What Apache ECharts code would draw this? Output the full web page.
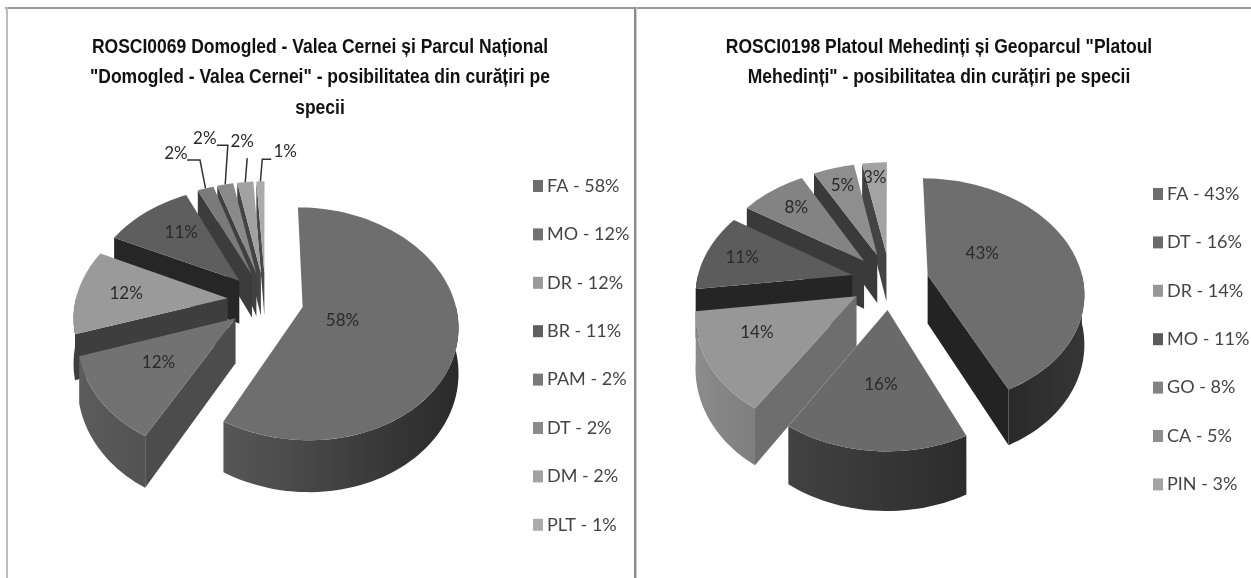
<!DOCTYPE html>
<html>
<head>
<meta charset="utf-8">
<title>ROSCI posibilitatea din curățiri pe specii</title>
<script src="https://cdn.jsdelivr.net/npm/echarts@6/dist/echarts.min.js"></script>
<style>
  html, body { margin: 0; padding: 0; background: #fff; }
  #chart { width: 1251px; height: 578px; }
</style>
</head>
<body>
<div id="chart"></div>
<script>
// values, left chart
const leftSpecies = ['FA', 'MO', 'DR', 'BR', 'PAM', 'DT', 'DM', 'PLT']
const leftValues = [58, 12, 12, 11, 2, 2, 2, 1]
const leftTitle = 'ROSCI0069 Domogled - Valea Cernei și Parcul Național\n"Domogled - Valea Cernei" - posibilitatea din curățiri pe\nspecii'

// right chart
const rightSpecies = ['FA', 'DT', 'DR', 'MO', 'GO', 'CA', 'PIN']
const rightValues = [43, 16, 14, 11, 8, 5, 3]
const rightTitle = 'ROSCI0198 Platoul Mehedinți și Geoparcul "Platoul\nMehedinți" - posibilitatea din curățiri pe specii'

const TITLE_FONT = '"Liberation Sans", sans-serif'
const TEXT_FONT = 'Lato, "Liberation Sans", sans-serif'

const leftLook = {
  cx: 265.5, cy: 300, rx: 152, ry: 112, tilt: 0.143, explode: 0.25, depth: 44,
  top: ['#6e6e6e', '#727272', '#9a9a9a', '#5e5e5e', '#7a7a7a', '#8a8a8a', '#a2a2a2', '#ababab'],
  cut: ['#333333', '#4c4c4c', '#3e3e3e', '#262626', '#3c3c3c', '#404040', '#444444', '#4a4a4a'],
  side: [['#575757', '#2a2a2a'], ['#5c5c5c', '#525252'], ['#3e3e3e', '#3e3e3e'], ['#262626', '#262626'],
    ['#3c3c3c', '#3c3c3c'], ['#404040', '#404040'], ['#444444', '#444444'], ['#4a4a4a', '#4a4a4a']],
  // label spot: distance from the slice tip, turn away from the slice middle
  labelR: [0.276, 0.58, 0.676, 0.65, 1.52, 1.64, 1.54, 1.40],
  labelTurn: [10, 2, 0, 3.6, -3, -1.2, 1.2, 8.7],
  // leader: elbow offset from the label, short run back towards it
  leader: [null, null, null, null, [24, 7, -13], [23, 7, -11], [5, 17, 0], [-23, 8, 9]]
}

const rightLook = {
  cx: 890, cy: 281, rx: 155.5, ry: 112, tilt: 0.143, explode: 0.25, depth: 49,
  top: ['#6e6e6e', '#6a6a6a', '#979797', '#5c5c5c', '#838383', '#8e8e8e', '#a3a3a3'],
  cut: ['#232323', '#333333', '#6e6e6e', '#252525', '#3a3a3a', '#3a3a3a', '#444444'],
  side: [['#2a2a2a', '#363636'], ['#424242', '#2c2c2c'], ['#8c8c8c', '#7e7e7e'], ['#252525', '#252525'],
    ['#3a3a3a', '#3a3a3a'], ['#3a3a3a', '#3a3a3a'], ['#444444', '#444444']],
  labelR: [0.423, 0.57, 0.664, 0.755, 0.735, 0.777, 0.815],
  labelTurn: [-16, 0, 5.4, 0, 1, 0, -0.9],
  leader: [null, null, null, null, null, null, null]
}

const rad = (d) => d * Math.PI / 180

function makeSlice(look, i, start, end) {
  const mid = (start + end) / 2
  const ex = look.explode * Math.sin(rad(mid))
  const ey = -look.explode * Math.cos(rad(mid))

  // circle coordinates to screen, with the far side squeezed by the tilt
  function pt(angle, r, h) {
    const u = ex + r * Math.sin(rad(angle))
    const v = ey - r * Math.cos(rad(angle))
    const s = 1 / (1 - look.tilt * v)
    return [look.cx + look.rx * u * s, look.cy + (look.ry * v + (h || 0)) * s]
  }

  function arc(a, b, h) {
    const pts = []
    const n = Math.max(2, Math.ceil(Math.abs(b - a) / 2))
    for (let j = 0; j <= n; j++) pts.push(pt(a + (b - a) * j / n, 1, h))
    return pts
  }

  function polygon(points, fill, z2) {
    return { type: 'polygon', shape: { points }, style: { fill }, z2, silent: true }
  }

  return function renderItem(params, api) {
    const value = api.value(0)
    const children = []
    const d = look.depth

    // cut faces looking at the viewer
    const cut = (a) => polygon([pt(a, 0), pt(a, 1), pt(a, 1, d), pt(a, 0, d)], look.cut[i], 1)
    if (Math.sin(rad(start)) < 0) children.push(cut(start))
    if (Math.sin(rad(end)) > 0) children.push(cut(end))

    // rim, only the front half shows
    const a = Math.max(start, 90)
    const b = Math.min(end, 270)
    if (b > a) {
      // left to right on screen
      const stops = look.side[i]
      const fill = new echarts.graphic.LinearGradient(0, 0, 1, 0, [
        { offset: 0, color: stops[0] },
        { offset: 1, color: stops[1] }
      ])
      children.push(polygon(arc(a, b, 0).concat(arc(b, a, d)), fill, 2))
    }

    // top face
    children.push(polygon([pt(start, 0)].concat(arc(start, end, 0)), look.top[i], 3))

    // data label
    const spot = pt(mid + look.labelTurn[i], look.labelR[i], 0)
    children.push({
      type: 'text',
      z2: 20,
      silent: true,
      style: {
        x: spot[0], y: spot[1], text: value + '%',
        align: 'center', verticalAlign: 'middle',
        fill: '#2a2a2a', font: '17px ' + TEXT_FONT
      }
    })

    // leader for the thin slices
    const lead = look.leader[i]
    if (lead) {
      const elbow = [spot[0] + lead[0], spot[1] + lead[1]]
      const pts = [pt(mid, 1, 0), elbow]
      if (lead[2]) pts.push([elbow[0] + lead[2], elbow[1]])
      children.push({
        type: 'polyline',
        z2: 19,
        silent: true,
        shape: { points: pts },
        style: { stroke: '#333', lineWidth: 1.5, fill: null }
      })
    }
    return { type: 'group', children }
  }
}

// one custom series per slice, far slices first so near ones paint over them
function pieSeries(species, values, look) {
  const total = values.reduce((a, b) => a + b, 0)
  let acc = 0
  const list = values.map((val, i) => {
    const start = acc / total * 360
    acc += val
    const end = acc / total * 360
    const mid = (start + end) / 2
    return {
      order: -Math.cos(rad(mid)),
      series: {
        type: 'custom',
        name: species[i] + ' - ' + val + '%',
        coordinateSystem: 'none',
        itemStyle: { color: look.top[i] },
        animation: false,
        silent: true,
        data: [[val]],
        renderItem: makeSlice(look, i, start, end)
      }
    }
  })
  return list.sort((p, q) => p.order - q.order).map((p) => p.series)
}

const legendNames = (species, values) => species.map((s, i) => s + ' - ' + values[i] + '%')

const legendBase = {
  orient: 'vertical',
  icon: 'rect',
  itemWidth: 10,
  itemHeight: 12,
  itemGap: 30.4,
  selectedMode: false,
  padding: 0,
  textStyle: { color: '#444', fontFamily: TEXT_FONT, fontSize: 18, lineHeight: 18, padding: [0, 0, 0, -1] }
}

// the title face is a narrow one, so the text is squeezed sideways
const titleText = (text, x, y) => ({
  type: 'text',
  x,
  y,
  scaleX: 0.875,
  silent: true,
  style: {
    text,
    align: 'center',
    verticalAlign: 'top',
    fill: '#111',
    font: 'bold 20px ' + TITLE_FONT,
    lineHeight: 30.5
  }
})

const frameLine = (x, y, width, height, fill) => ({
  type: 'rect', shape: { x, y, width, height }, style: { fill }, silent: true
})

const chart = echarts.init(document.getElementById('chart'), null, { renderer: 'canvas' })
chart.setOption({
  backgroundColor: '#fff',
  animation: false,
  tooltip: { show: false },
  legend: [
    Object.assign({ left: 533, top: 177, data: legendNames(leftSpecies, leftValues) }, legendBase),
    Object.assign({ left: 1153, top: 185, data: legendNames(rightSpecies, rightValues) }, legendBase)
  ],
  graphic: [
    frameLine(5, 7, 1246, 2, '#9a9a9a'),
    frameLine(6, 7, 2, 571, '#bdbdbd'),
    frameLine(634, 7, 2, 571, '#8a8a8a'),
    frameLine(636, 7, 1, 571, '#d0d0d0'),
    titleText(leftTitle, 320, 32),
    titleText(rightTitle, 939, 32)
  ],
  series: pieSeries(leftSpecies, leftValues, leftLook).concat(pieSeries(rightSpecies, rightValues, rightLook))
})
</script>
</body>
</html>
